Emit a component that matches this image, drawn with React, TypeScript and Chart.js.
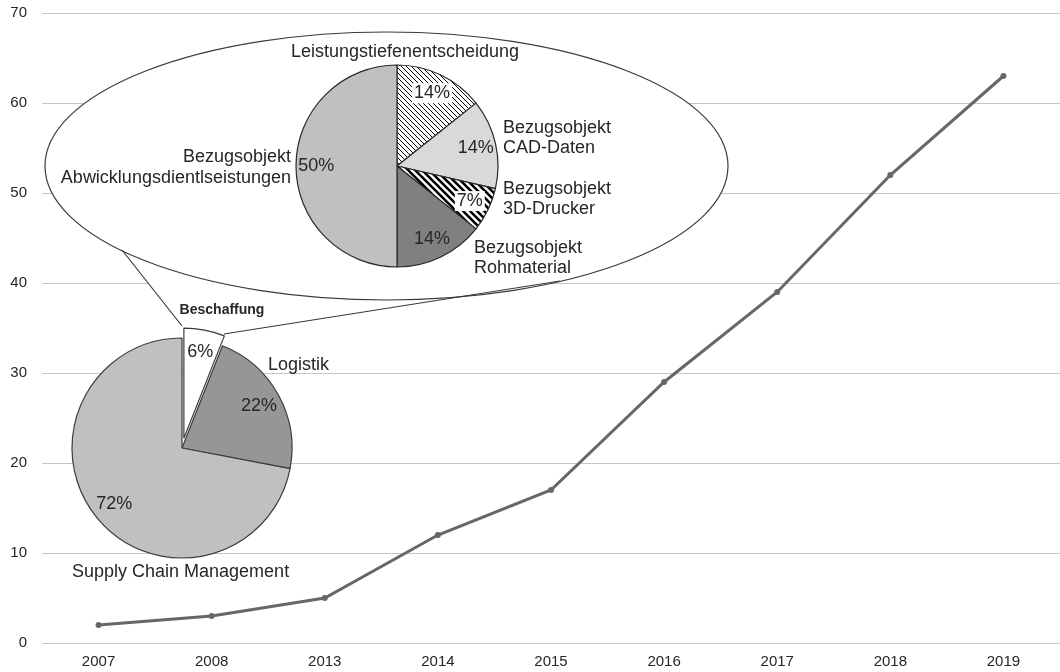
import React, { useEffect, useRef } from 'react';
import { Chart, registerables } from 'chart.js';

Chart.register(...registerables);

// ---------- data ----------
const years = ['2007', '2008', '2013', '2014', '2015', '2016', '2017', '2018', '2019'];
const trendValues = [2, 3, 5, 12, 17, 29, 39, 52, 63];
const yMin = 0;
const yMax = 70;
const yStep = 10;

const mainLabels = ['Beschaffung', 'Logistik', 'Supply Chain Management'];
const mainValues = [6, 22, 72];

const detailLabels = [
  'Leistungstiefenentscheidung',
  'Bezugsobjekt\nCAD-Daten',
  'Bezugsobjekt\n3D-Drucker',
  'Bezugsobjekt\nRohmaterial',
  'Bezugsobjekt\nAbwicklungsdientlseistungen',
];
const detailValues = [14.3, 14.3, 7.1, 14.3, 50];

// ---------- styling ----------
const FONT = '"Liberation Sans", Arial, Helvetica, sans-serif';
const TEXT = '#262626';
const W = 1060;
const H = 672;

function hatch(period: number, width: number): CanvasPattern | string {
  const c = document.createElement('canvas');
  c.width = period;
  c.height = period;
  const g = c.getContext('2d');
  if (!g) return '#fff';
  g.fillStyle = '#ffffff';
  g.fillRect(0, 0, period, period);
  g.strokeStyle = '#000000';
  g.lineWidth = width;
  g.beginPath();
  g.moveTo(-1, -1);
  g.lineTo(period + 1, period + 1);
  g.moveTo(-1, period - 1);
  g.lineTo(1, period + 1);
  g.moveTo(period - 1, -1);
  g.lineTo(period + 1, 1);
  g.stroke();
  const p = g.createPattern(c, 'repeat');
  return p || '#fff';
}

function drawLines(ctx: CanvasRenderingContext2D, lines: string[], x: number, y: number, align: CanvasTextAlign, lh: number, font: string) {
  ctx.save();
  ctx.font = font;
  ctx.fillStyle = TEXT;
  ctx.textAlign = align;
  ctx.textBaseline = 'middle';
  lines.forEach((l, i) => ctx.fillText(l, x, y + i * lh));
  ctx.restore();
}

// decoration: callout ellipse drawn on the line chart, under the pies
const calloutPlugin = {
  id: 'callout',
  beforeDatasetsDraw(chart: any) {
    const ctx: CanvasRenderingContext2D = chart.ctx;
    ctx.save();
    ctx.fillStyle = '#ffffff';
    ctx.beginPath();
    ctx.moveTo(122, 250);
    ctx.lineTo(182, 326);
    ctx.lineTo(224, 334);
    ctx.lineTo(560, 281);
    ctx.closePath();
    ctx.fill();
    ctx.beginPath();
    ctx.ellipse(386.5, 166, 341.5, 134, 0, 0, Math.PI * 2);
    ctx.fill();
    ctx.strokeStyle = '#3a3a3a';
    ctx.lineWidth = 1.2;
    ctx.stroke();
    ctx.beginPath();
    ctx.moveTo(122, 250);
    ctx.lineTo(182, 326);
    ctx.moveTo(224, 334);
    ctx.lineTo(560, 281);
    ctx.stroke();
    ctx.restore();
  },
};

function pctText(v: number, total: number) {
  return Math.round((v / total) * 100) + '%';
}

function makePiePlugin(explodeIndex: number, explodeBy: number, whiteBg: number[], outer: (ctx: CanvasRenderingContext2D) => void) {
  return {
    id: 'pieDeco',
    beforeDatasetDraw(chart: any, args: any) {
      const ctx: CanvasRenderingContext2D = chart.ctx;
      const meta = chart.getDatasetMeta(args.index);
      meta.data.forEach((el: any, i: number) => {
        ctx.save();
        if (i === explodeIndex) {
          const mid = (el.startAngle + el.endAngle) / 2;
          ctx.translate(Math.cos(mid) * explodeBy, Math.sin(mid) * explodeBy);
        }
        el.draw(ctx);
        ctx.restore();
      });
      return false;
    },
    afterDatasetsDraw(chart: any) {
      const ctx: CanvasRenderingContext2D = chart.ctx;
      const meta = chart.getDatasetMeta(0);
      const vals: number[] = chart.data.datasets[0].data;
      const total = vals.reduce((a, b) => a + b, 0);
      ctx.save();
      ctx.font = `18px ${FONT}`;
      ctx.textAlign = 'center';
      ctx.textBaseline = 'middle';
      meta.data.forEach((el: any, i: number) => {
        const mid = (el.startAngle + el.endAngle) / 2;
        const off = i === explodeIndex ? explodeBy : 0;
        const r = el.outerRadius * 0.8 + off;
        const x = el.x + Math.cos(mid) * r;
        const y = el.y + Math.sin(mid) * r;
        const t = pctText(vals[i], total);
        if (whiteBg.includes(i)) {
          const w = ctx.measureText(t).width;
          ctx.fillStyle = '#ffffff';
          ctx.fillRect(x - w / 2 - 2, y - 10, w + 4, 20);
        }
        ctx.fillStyle = TEXT;
        ctx.fillText(t, x, y);
      });
      ctx.restore();
      outer(ctx);
    },
  };
}

export default function App() {
  const lineRef = useRef<HTMLCanvasElement>(null);
  const pie1Ref = useRef<HTMLCanvasElement>(null);
  const pie2Ref = useRef<HTMLCanvasElement>(null);

  useEffect(() => {
    document.body.style.margin = '0';
    const charts: Chart[] = [];

    if (lineRef.current) {
      charts.push(
        new Chart(lineRef.current, {
          type: 'line',
          data: {
            labels: years,
            datasets: [
              {
                data: trendValues,
                borderColor: '#676767',
                backgroundColor: '#676767',
                borderWidth: 3,
                pointRadius: 3,
                pointBorderWidth: 0,
                pointBackgroundColor: '#676767',
                tension: 0,
              },
            ],
          },
          options: {
            animation: false,
            responsive: false,
            events: [],
            layout: { autoPadding: false, padding: { top: 13, right: 0, bottom: 1, left: 0 } },
            plugins: { legend: { display: false }, tooltip: { enabled: false } },
            scales: {
              x: {
                offset: true,
                grid: { display: false, drawTicks: false },
                border: { display: false },
                ticks: { font: { family: FONT, size: 15 }, color: TEXT, padding: 10, maxRotation: 0, autoSkip: false },
                afterFit: (s: any) => {
                  s.paddingLeft = 0;
                  s.paddingRight = 0;
                  s.height = 28;
                },
              },
              y: {
                min: yMin,
                max: yMax,
                ticks: { stepSize: yStep, font: { family: FONT, size: 15 }, color: TEXT, padding: 15 },
                grid: { color: '#c6c6c6', drawTicks: false, lineWidth: 1 },
                border: { display: false },
                afterFit: (s: any) => {
                  s.width = 42;
                  s.paddingTop = 0;
                  s.paddingBottom = 0;
                },
              },
            },
          },
          plugins: [calloutPlugin],
        } as any)
      );
    }

    if (pie1Ref.current) {
      const outer1 = (ctx: CanvasRenderingContext2D) => {
        drawLines(ctx, [mainLabels[0]], 222, 310, 'center', 20, `bold 14px ${FONT}`);
        drawLines(ctx, [mainLabels[1]], 268, 365, 'left', 20, `18px ${FONT}`);
        drawLines(ctx, [mainLabels[2]], 72, 572, 'left', 20, `18px ${FONT}`);
      };
      charts.push(
        new Chart(pie1Ref.current, {
          type: 'pie',
          data: {
            labels: mainLabels,
            datasets: [
              {
                data: mainValues,
                radius: 110,
                backgroundColor: ['#ffffff', '#969696', '#c0c0c0'],
                borderColor: '#3c3c3c',
                borderWidth: 1.2,
              },
            ],
          },
          options: {
            animation: false,
            responsive: false,
            events: [],
            layout: { autoPadding: false, padding: { left: 0, right: W - 182 * 2, top: 448 * 2 - H, bottom: 0 } },
            plugins: { legend: { display: false }, tooltip: { enabled: false } },
          },
          plugins: [makePiePlugin(0, 10, [], outer1)],
        } as any)
      );
    }

    if (pie2Ref.current) {
      const outer2 = (ctx: CanvasRenderingContext2D) => {
        const f = `18px ${FONT}`;
        drawLines(ctx, detailLabels[0].split('\n'), 405, 52, 'center', 20, f);
        drawLines(ctx, detailLabels[1].split('\n'), 503, 128, 'left', 20, f);
        drawLines(ctx, detailLabels[2].split('\n'), 503, 189, 'left', 20, f);
        drawLines(ctx, detailLabels[3].split('\n'), 474, 248, 'left', 20, f);
        drawLines(ctx, detailLabels[4].split('\n'), 291, 157, 'right', 21, f);
      };
      charts.push(
        new Chart(pie2Ref.current, {
          type: 'pie',
          data: {
            labels: detailLabels,
            datasets: [
              {
                data: detailValues,
                radius: 101,
                backgroundColor: [hatch(5, 1), '#d9d9d9', hatch(7, 2.6), '#808080', '#c0c0c0'],
                borderColor: '#2a2a2a',
                borderWidth: 1.2,
              },
            ],
          },
          options: {
            animation: false,
            responsive: false,
            events: [],
            layout: { autoPadding: false, padding: { left: 0, right: W - 397 * 2, top: 0, bottom: H - 166 * 2 } },
            plugins: { legend: { display: false }, tooltip: { enabled: false } },
          },
          plugins: [makePiePlugin(-1, 0, [0, 2], outer2)],
        } as any)
      );
    }

    return () => {
      charts.forEach((c) => c.destroy());
    };
  }, []);

  const abs: React.CSSProperties = { position: 'absolute', left: 0, top: 0 };
  return (
    <div style={{ position: 'relative', width: W, height: H, background: '#fff', overflow: 'hidden' }}>
      <canvas ref={lineRef} width={W} height={H} style={abs} />
      <canvas ref={pie1Ref} width={W} height={H} style={abs} />
      <canvas ref={pie2Ref} width={W} height={H} style={abs} />
    </div>
  );
}
